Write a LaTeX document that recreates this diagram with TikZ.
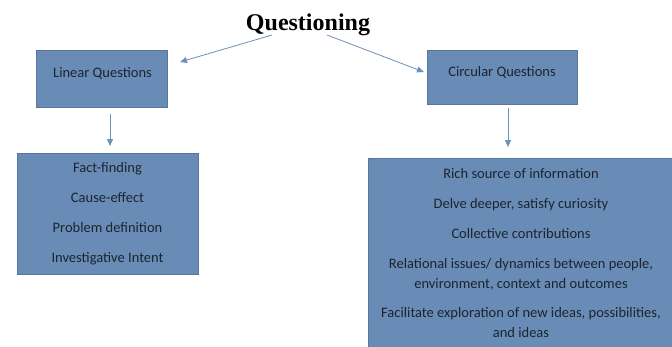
\documentclass[tikz,border=0pt]{standalone}
\usepackage{fontspec}
\setmainfont{Carlito}
\newfontfamily\titlefont{Liberation Serif}
\usetikzlibrary{arrows.meta}
\definecolor{boxfill}{RGB}{104,140,182}
\definecolor{boxline}{RGB}{88,118,156}
\definecolor{arrowc}{RGB}{110,145,186}
\definecolor{txt}{RGB}{28,36,48}
\tikzset{
  box/.style={draw=boxline, line width=0.7pt, fill=boxfill, inner sep=0pt, outer sep=0pt},
  lbl/.style={anchor=base, inner sep=0pt, text=txt, font=\fontsize{14.5}{19}\selectfont},
  conn/.style={draw=arrowc, line width=0.8pt, -{Triangle[length=7pt,width=6pt]}}
}
\begin{document}
\begin{tikzpicture}[x=1pt,y=1pt]
\useasboundingbox (0,0) rectangle (672,-346);
\clip (0,0) rectangle (672,-346);
\fill[white] (0,0) rectangle (672,-346);
% title
\node[anchor=base, inner sep=0pt, font=\titlefont\bfseries\fontsize{24}{28}\selectfont] (title) at (308,-30) {Questioning};
% boxes
\path[box] (36,-50) rectangle (167,-107);
\node[inner sep=0pt, minimum width=131pt, minimum height=57pt] (lin) at (101.5,-78.5) {};
\path[box] (427,-50) rectangle (577,-104);
\node[inner sep=0pt, minimum width=150pt, minimum height=54pt] (circ) at (502,-77) {};
\path[box] (17,-153) rectangle (198,-274);
\node[inner sep=0pt, minimum width=181pt, minimum height=121pt] (lbox) at (107.5,-213.5) {};
\path[box] (368,-158) rectangle (676,-352);
\node[inner sep=0pt, minimum width=308pt, minimum height=194pt] (rbox) at (522,-255) {};
% labels
\node[lbl] (linT) at (102.5,-77) {Linear Questions};
\node[lbl] (circT) at (502,-76) {Circular Questions};
\node[lbl] (l1) at (107.5,-172) {Fact-finding};
\node[lbl] (l2) at (107.5,-202) {Cause-effect};
\node[lbl] (l3) at (107.5,-232) {Problem definition};
\node[lbl] (l4) at (107.5,-262) {Investigative Intent};
\node[lbl] (r1) at (521,-178) {Rich source of information};
\node[lbl] (r2) at (521,-208) {Delve deeper, satisfy curiosity};
\node[lbl] (r3) at (521,-238) {Collective contributions};
\node[lbl] (r4a) at (521,-268) {Relational issues/ dynamics between people,};
\node[lbl] (r4b) at (521,-288) {environment, context and outcomes};
\node[lbl] (r5a) at (521,-317) {Facilitate exploration of new ideas, possibilities,};
\node[lbl] (r5b) at (521,-337) {and ideas};
% connector endpoints
\coordinate (t1) at (272,-35);
\coordinate (e1) at (180,-62);
\coordinate (t2) at (327,-35);
\coordinate (e2) at (424,-72);
\coordinate (d1s) at (110,-114);
\coordinate (d1e) at (110,-146);
\coordinate (d2s) at (508,-108);
\coordinate (d2e) at (508,-147);
\draw[conn] (t1) -- (e1);
\draw[conn] (t2) -- (e2);
\draw[conn] (d1s) -- (d1e);
\draw[conn] (d2s) -- (d2e);
\end{tikzpicture}
\end{document}
